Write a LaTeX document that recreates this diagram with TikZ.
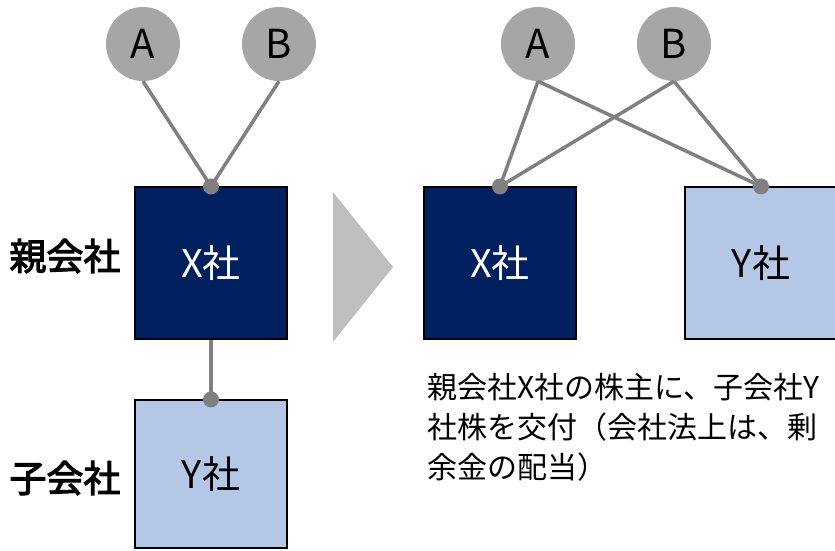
\documentclass[tikz,border=0pt]{standalone}
\usepackage{fontspec}
\setmainfont{Noto Sans CJK JP}
\newfontfamily\jpbold{Noto Sans CJK JP}[FakeBold=3]
\definecolor{navy}{HTML}{002060}
\definecolor{paleblue}{HTML}{B4C7E7}
\definecolor{holder}{HTML}{A6A6A6}
\definecolor{linkgray}{HTML}{808080}
\definecolor{arrowgray}{HTML}{BFBFBF}
\begin{document}
\begin{tikzpicture}[x=1pt,y=-1pt,
  holdernode/.style={circle,fill=holder,minimum size=74pt,inner sep=0pt,
    font=\fontsize{40}{42}\selectfont},
  company/.style={rectangle,draw=black,line width=1.2pt,minimum width=152pt,
    inner sep=0pt,font=\fontsize{38}{40}\selectfont},
  parentco/.style={company,fill=navy,text=white,minimum height=152pt},
  childco/.style={company,fill=paleblue,text=black},
  link/.style={draw=linkgray,line width=3.5pt},
  joint/.style={fill=linkgray},
  rolelabel/.style={font=\jpbold\fontsize{37}{40}\selectfont}]
\useasboundingbox (0,0) rectangle (835,550);

% before: shareholders -> parent X -> subsidiary Y
\node[holdernode] (A1) at (143,44) {A};
\node[holdernode] (B1) at (279,44) {B};
\node[parentco] (X1) at (211,263) {X社};
\node[childco,minimum height=148pt] (Y1) at (211,474) {Y社};
\node[rolelabel] (p1) at (65,256) {親会社};
\node[rolelabel] (c1) at (65,478) {子会社};
\draw[link] (A1.south) -- (X1.north);
\draw[link] (B1.south) -- (X1.north);
\draw[link] (X1.south) -- (Y1.north);
\fill[joint] (X1.north) circle (8pt);
\fill[joint] (Y1.north) circle (8pt);

% transition arrow
\fill[arrowgray] (333,192) -- (393,267) -- (333,342) -- cycle;

% after: A and B hold both X and Y directly
\node[holdernode] (A2) at (538,44) {A};
\node[holdernode] (B2) at (674,44) {B};
\node[parentco] (X2) at (500,263) {X社};
\node[childco,minimum height=152pt] (Y2) at (761,263) {Y社};
\draw[link] (A2.south) -- (X2.north);
\draw[link] (A2.south) -- (Y2.north);
\draw[link] (B2.south) -- (X2.north);
\draw[link] (B2.south) -- (Y2.north);
\fill[joint] (X2.north) circle (8pt);
\fill[joint] (Y2.north) circle (8pt);

\node[anchor=north west,inner sep=0pt,align=left,
  font=\fontsize{30}{40}\selectfont] (note) at (427,373)
  {親会社X社の株主に、子会社Y\\社株を交付（会社法上は、剰\\余金の配当）};
\end{tikzpicture}
\end{document}
